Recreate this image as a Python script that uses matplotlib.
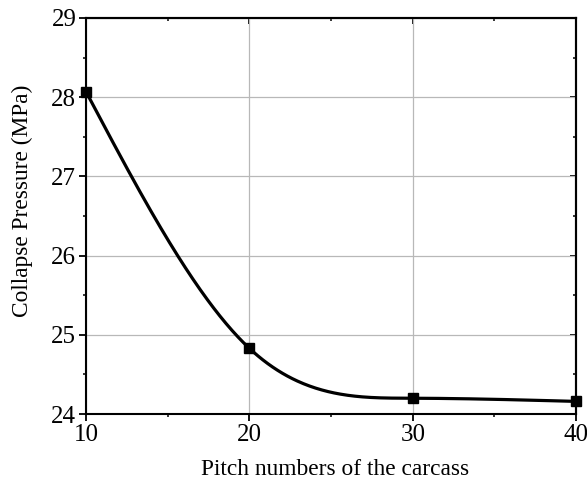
import numpy as np
import matplotlib.pyplot as plt
from matplotlib.ticker import MultipleLocator, NullFormatter

# --- Data ---
pitch = [10, 20, 30, 40]
pressure = [28.07, 24.83, 24.20, 24.16]


# --- Smooth connecting line (natural cubic spline, like Origin's spline connect) ---
def natural_spline(x, y, xs):
    x = np.asarray(x, float)
    y = np.asarray(y, float)
    n = len(x)
    h = np.diff(x)
    A = np.zeros((n, n))
    b = np.zeros(n)
    A[0, 0] = A[-1, -1] = 1
    for i in range(1, n - 1):
        A[i, i - 1] = h[i - 1]
        A[i, i] = 2 * (h[i - 1] + h[i])
        A[i, i + 1] = h[i]
        b[i] = 6 * ((y[i + 1] - y[i]) / h[i] - (y[i] - y[i - 1]) / h[i - 1])
    M = np.linalg.solve(A, b)
    idx = np.clip(np.searchsorted(x, xs) - 1, 0, n - 2)
    x0, x1 = x[idx], x[idx + 1]
    hh = h[idx]
    return (M[idx] * (x1 - xs) ** 3 / (6 * hh) + M[idx + 1] * (xs - x0) ** 3 / (6 * hh)
            + (y[idx] / hh - M[idx] * hh / 6) * (x1 - xs)
            + (y[idx + 1] / hh - M[idx + 1] * hh / 6) * (xs - x0))


xs = np.linspace(pitch[0], pitch[-1], 400)
ys = natural_spline(pitch, pressure, xs)

plt.rcParams["font.family"] = ["Liberation Serif", "DejaVu Serif"]

fig = plt.figure(figsize=(5.87, 4.86), dpi=100)
ax = fig.add_axes([0.1465, 0.148, 0.835, 0.815])

ax.plot(xs, ys, color="black", lw=2.3, zorder=3)
ax.plot(pitch, pressure, "s", color="black", ms=6.5, zorder=4, clip_on=False)

ax.set_xlim(10, 40)
ax.set_ylim(24, 29)
ax.xaxis.set_major_locator(MultipleLocator(10))
ax.xaxis.set_minor_locator(MultipleLocator(5))
ax.yaxis.set_major_locator(MultipleLocator(1))
ax.yaxis.set_minor_locator(MultipleLocator(0.5))

ax.grid(True, which="major", color="#b8b8b8", lw=0.9)
ax.set_axisbelow(True)

for s in ax.spines.values():
    s.set_linewidth(1.5)
    s.set_color("black")

ax.tick_params(which="major", direction="out", length=5, width=1.3,
               labelsize=18, pad=2)
ax.tick_params(which="minor", direction="out", length=2.5, width=1.1)

# top / right: inward ticks, no labels
top = ax.secondary_xaxis("top")
right = ax.secondary_yaxis("right")
for sec, sax, step in [(top, top.xaxis, 10), (right, right.yaxis, 1)]:
    sax.set_major_locator(MultipleLocator(step))
    sax.set_minor_locator(MultipleLocator(step / 2))
    sax.set_major_formatter(NullFormatter())
    sec.tick_params(which="major", direction="in", length=4, width=1.3)
    sec.tick_params(which="minor", direction="in", length=2.5, width=1.1)
    for s in sec.spines.values():
        s.set_linewidth(1.5)

ax.set_xlabel("Pitch numbers of the carcass", fontsize=16.8)
ax.set_ylabel("Collapse Pressure (MPa)", fontsize=16.8)
ax.xaxis.set_label_coords(0.508, -0.113)
ax.yaxis.set_label_coords(-0.108, 0.538)

fig.savefig("out.png", dpi=100)
